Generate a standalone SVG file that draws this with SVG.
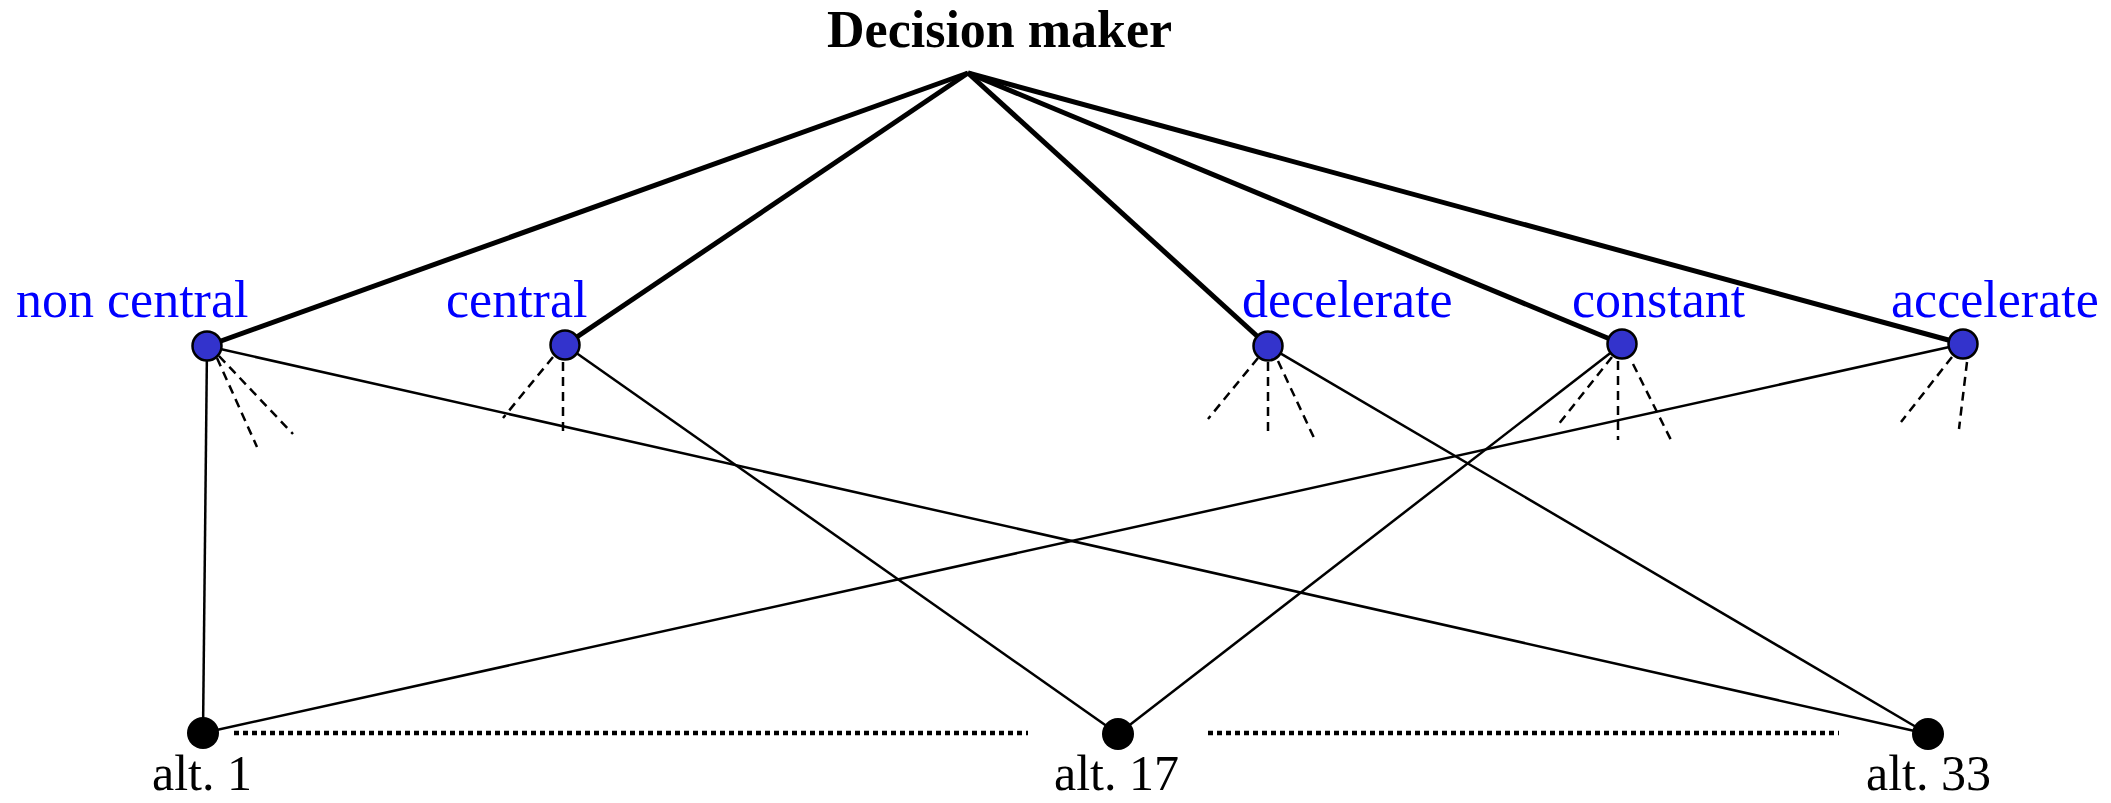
<svg xmlns="http://www.w3.org/2000/svg" width="2111" height="803" viewBox="0 0 2111 803">
<style>
.lbl{font-family:"Liberation Serif","Times New Roman",serif;font-size:52px;fill:#0000ff}
.alt{font-family:"Liberation Serif","Times New Roman",serif;font-size:50px;fill:#000}
.title{font-family:"Liberation Serif","Times New Roman",serif;font-size:52px;font-weight:bold;fill:#000}
.thick{stroke:#000;stroke-width:5;fill:none}
.thin{stroke:#000;stroke-width:2.5;fill:none}
.dash{stroke:#000;stroke-width:2.5;stroke-dasharray:9 6;fill:none}
.dot{stroke:#000;stroke-width:4.5;stroke-dasharray:5 4;fill:none}
.crit{fill:#3333cc;stroke:#000;stroke-width:2.5}
.altn{fill:#000}
</style>
<rect width="2111" height="803" fill="#fff"/>
<g id="connectors">
<line class="thick" x1="968" y1="73" x2="207" y2="346"/>
<line class="thick" x1="968" y1="73" x2="565" y2="345"/>
<line class="thick" x1="968" y1="73" x2="1268" y2="346"/>
<line class="thick" x1="968" y1="73" x2="1622" y2="344"/>
<line class="thick" x1="968" y1="73" x2="1963" y2="344"/>
<line class="thin" x1="207" y1="346" x2="203" y2="733"/>
<line class="thin" x1="207" y1="346" x2="1928" y2="734"/>
<line class="thin" x1="565" y1="345" x2="1118" y2="734"/>
<line class="thin" x1="1268" y1="346" x2="1928" y2="734"/>
<line class="thin" x1="1622" y1="344" x2="1118" y2="734"/>
<line class="thin" x1="1963" y1="344" x2="203" y2="733"/>
<line class="dash" x1="217" y1="358" x2="257" y2="447"/>
<line class="dash" x1="219" y1="356" x2="293" y2="434"/>
<line class="dash" x1="553" y1="357" x2="503" y2="418"/>
<line class="dash" x1="563" y1="362" x2="563" y2="433"/>
<line class="dash" x1="1258" y1="358" x2="1208" y2="419"/>
<line class="dash" x1="1268" y1="362" x2="1268" y2="432"/>
<line class="dash" x1="1278" y1="361" x2="1315" y2="440"/>
<line class="dash" x1="1612" y1="357" x2="1558" y2="425"/>
<line class="dash" x1="1618" y1="361" x2="1618" y2="440"/>
<line class="dash" x1="1633" y1="364" x2="1672" y2="442"/>
<line class="dash" x1="1952" y1="357" x2="1901" y2="422"/>
<line class="dash" x1="1967" y1="362" x2="1959" y2="429"/>
<line class="dot" x1="234" y1="733" x2="1028" y2="733"/>
<line class="dot" x1="1208" y1="733" x2="1839" y2="733"/>
</g>
<g id="decision-maker"><text class="title" x="827" y="47">Decision maker</text></g>
<g id="non-central"><circle class="crit" cx="207" cy="346" r="14.5"/><text class="lbl" x="16" y="317">non central</text></g>
<g id="central"><circle class="crit" cx="565" cy="345" r="14.5"/><text class="lbl" x="446" y="317">central</text></g>
<g id="decelerate"><circle class="crit" cx="1268" cy="346" r="14.5"/><text class="lbl" x="1242" y="317">decelerate</text></g>
<g id="constant"><circle class="crit" cx="1622" cy="344" r="14.5"/><text class="lbl" x="1572" y="317">constant</text></g>
<g id="accelerate"><circle class="crit" cx="1963" cy="344" r="14.5"/><text class="lbl" x="1891" y="317">accelerate</text></g>
<g id="alt1"><circle class="altn" cx="203" cy="733" r="16"/><text class="alt" x="152" y="790">alt. 1</text></g>
<g id="alt17"><circle class="altn" cx="1118" cy="734" r="16"/><text class="alt" x="1054" y="790">alt. 17</text></g>
<g id="alt33"><circle class="altn" cx="1928" cy="734" r="16"/><text class="alt" x="1866" y="790">alt. 33</text></g>
</svg>
